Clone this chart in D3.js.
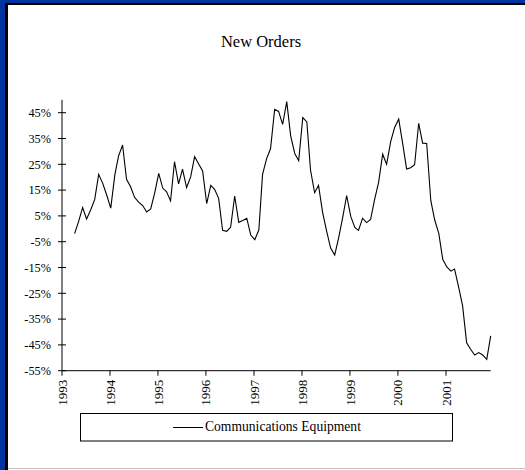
<!DOCTYPE html>
<html>
<head>
<meta charset="utf-8">
<script src="https://cdn.jsdelivr.net/npm/d3@7"></script>
<style>
	body { margin: 0; padding: 0; }
	svg { display: block; font-family: "Liberation Serif", "Times New Roman", serif; }
</style>
</head>
<body>
<div id="chart"></div>
<script>
// monthly values, Apr 1993 .. Dec 2001 (% yoy)
const startYear = 1993;
const startMonth = 3; // April
const seriesName = "Communications Equipment";
const values = [
	-1.9, 2.8, 8.2, 3.8, 7.3, 11.4, 21.1, 17.6, 13.1,
	8.0, 20.9, 28.2, 32.5, 19.2, 16.3, 12.2, 10.3, 9.0, 6.5, 7.7, 13.8,
	21.5, 15.7, 14.4, 10.8, 26.0, 17.4, 23.1, 16.0, 20.1, 28.0, 25.1, 22.4,
	9.8, 16.8, 15.3, 11.8, -0.6, -1.0, 0.6, 12.7, 2.5, 3.2, 4.1, -2.4,
	-4.2, -0.4, 21.1, 27.2, 31.1, 46.3, 45.5, 40.5, 49.3, 36.0, 29.2, 26.4,
	43.1, 41.4, 22.8, 14.0, 16.8, 6.4, -0.8, -7.5, -10.2, -3.5, 4.4, 12.9,
	4.8, 0.5, -0.6, 4.1, 2.4, 3.6, 11.2, 18.0, 28.9, 25.0, 33.8, 39.3,
	42.5, 32.8, 23.2, 23.7, 24.8, 40.9, 33.2, 33.1, 11.0, 3.4, -1.8, -11.8,
	-14.8, -16.4, -15.6, -22.6, -29.8, -44.2, -46.7, -48.9, -48.0, -48.9, -50.6, -41.5
];
const yTicks = [-55, -45, -35, -25, -15, -5, 5, 15, 25, 35, 45];
const yearTicks = [1993, 1994, 1995, 1996, 1997, 1998, 1999, 2000, 2001];

const width = 525;
const height = 470;

const svg = d3.select("#chart")
	.append("svg")
	.attr("width", width)
	.attr("height", height);

// frame
svg.append("rect").attr("width", width).attr("height", height).attr("fill", "#0033a0");
svg.append("rect").attr("x", 5).attr("y", 3).attr("width", width - 5).attr("height", height - 3).attr("fill", "#000");
svg.append("rect").attr("x", 8).attr("y", 5).attr("width", width - 8).attr("height", height - 5).attr("fill", "#fff");
svg.append("line")
	.attr("x1", 8).attr("x2", width)
	.attr("y1", 468.5).attr("y2", 468.5)
	.attr("stroke", "#c0c0c0");

const data = values.map((v, i) => ({
	date: new Date(startYear, startMonth + i, 7),
	value: v
}));

const x = d3.scaleTime()
	.domain([new Date(1993, 0, 1), new Date(2001, 11, 7)])
	.range([62, 490.7]);

const y = d3.scaleLinear()
	.domain([-55, 50])
	.range([370.7, 99.8]);

// title
svg.append("text")
	.attr("x", 261)
	.attr("y", 46.5)
	.attr("text-anchor", "middle")
	.attr("font-size", 16.5)
	.text("New Orders");

// y axis
const yAxis = svg.append("g").attr("transform", "translate(62,0)");
yAxis.append("line")
	.attr("y1", y(50)).attr("y2", y(-55))
	.attr("stroke", "#000");
yAxis.selectAll(".tick")
	.data(yTicks)
	.enter()
	.append("line")
	.attr("x1", -4).attr("x2", 4)
	.attr("y1", (d) => y(d)).attr("y2", (d) => y(d))
	.attr("stroke", "#000");
yAxis.selectAll("text")
	.data(yTicks)
	.enter()
	.append("text")
	.attr("x", -11)
	.attr("y", (d) => y(d))
	.attr("dy", "0.35em")
	.attr("text-anchor", "end")
	.attr("font-size", 12.3)
	.text((d) => d + "%");

// x axis
const xAxis = svg.append("g").attr("transform", `translate(0,${y(-55)})`);
xAxis.append("line")
	.attr("x1", x.range()[0]).attr("x2", x.range()[1])
	.attr("stroke", "#000");
xAxis.selectAll(".tick")
	.data(yearTicks)
	.enter()
	.append("line")
	.attr("x1", (d) => x(new Date(d, 0, 1))).attr("x2", (d) => x(new Date(d, 0, 1)))
	.attr("y1", 0).attr("y2", 5)
	.attr("stroke", "#000");
xAxis.selectAll("text")
	.data(yearTicks)
	.enter()
	.append("text")
	.attr("transform", (d) => `translate(${x(new Date(d, 0, 1))},9) rotate(-90)`)
	.attr("dy", "0.35em")
	.attr("text-anchor", "end")
	.attr("font-size", 13)
	.text((d) => d);

// series
const line = d3.line()
	.x((d) => x(d.date))
	.y((d) => y(d.value));

svg.append("path")
	.datum(data)
	.attr("fill", "none")
	.attr("stroke", "#000")
	.attr("stroke-width", 1.1)
	.attr("d", line);

// legend
const legend = svg.append("g");
legend.append("rect")
	.attr("x", 80.5).attr("y", 413.5)
	.attr("width", 372).attr("height", 27.5)
	.attr("fill", "#fff")
	.attr("stroke", "#000");
legend.append("line")
	.attr("x1", 173).attr("x2", 203)
	.attr("y1", 427.5).attr("y2", 427.5)
	.attr("stroke", "#000");
legend.append("text")
	.attr("x", 205)
	.attr("y", 431)
	.attr("font-size", 13.6)
	.text(seriesName);
</script>
</body>
</html>
